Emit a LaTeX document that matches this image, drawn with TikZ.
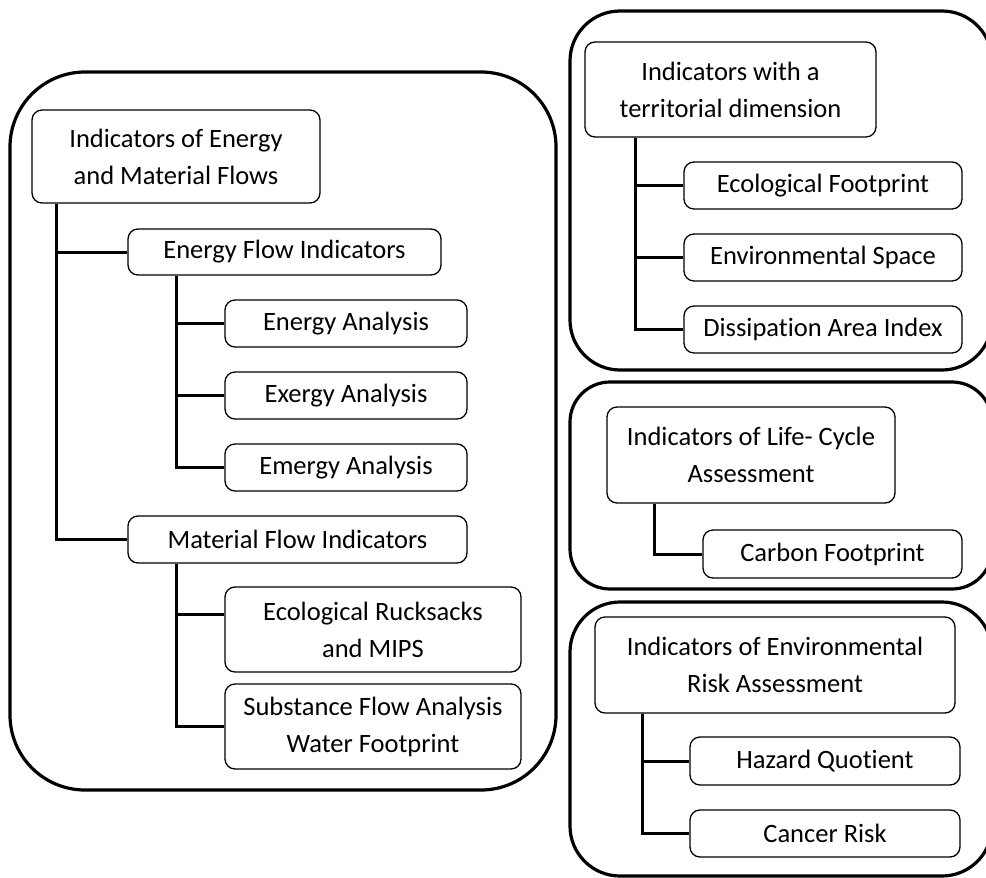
\documentclass[tikz,border=0pt]{standalone}
\usepackage{fontspec}
\setmainfont{Carlito}[Ligatures={NoCommon}]
\usetikzlibrary{calc}
\tikzset{
  group/.style={draw, line width=3.2pt, rounded corners=#1},
  ibox/.style={draw, line width=1.3pt, rounded corners=10pt, align=center,
    inner sep=0pt, font=\fontsize{26.5}{37}\selectfont},
  link/.style={line width=3pt},
}
\begin{document}
\begin{tikzpicture}[x=1pt,y=-1pt]
\clip (0,0) rectangle (986,878);
\fill[white] (0,0) rectangle (986,878);

% group frames (the right-hand ones run past the page edge)
\draw[group=75pt] (10,72) rectangle (556,790);
\draw[group=50pt] (570,11) rectangle (992,370);
\draw[group=40pt] (570,382) rectangle (992,589);
\draw[group=50pt] (570,602) rectangle (992,876);

% energy and material flows
\node[ibox, minimum width=288pt, minimum height=93pt] (emf) at (176,156.5) {Indicators of Energy\\and Material Flows};
\node[ibox, minimum width=313pt, minimum height=46pt] (efi) at (284.5,252) {Energy Flow Indicators};
\node[ibox, minimum width=242pt, minimum height=47pt] (ea) at (346,323.5) {Energy Analysis};
\node[ibox, minimum width=242pt, minimum height=47pt] (exa) at (346,395.5) {Exergy Analysis};
\node[ibox, minimum width=242pt, minimum height=47pt] (ema) at (346,467.5) {Emergy Analysis};
\node[ibox, minimum width=339pt, minimum height=47pt] (mfi) at (297.5,539.5) {Material Flow Indicators};
\node[ibox, minimum width=296pt, minimum height=85pt] (erm) at (373,629.5) {Ecological Rucksacks\\and MIPS};
\node[ibox, minimum width=296pt, minimum height=85pt] (sfa) at (373,726.5) {Substance Flow Analysis\\Water Footprint};

% territorial dimension
\node[ibox, minimum width=291pt, minimum height=95pt] (terr) at (730.5,89.5) {Indicators with a\\territorial dimension};
\node[ibox, minimum width=278pt, minimum height=47pt] (ef) at (823,185.5) {Ecological Footprint};
\node[ibox, minimum width=278pt, minimum height=47pt] (es) at (823,257.5) {Environmental Space};
\node[ibox, minimum width=278pt, minimum height=47pt] (dai) at (823,329.5) {Dissipation Area Index};

% life-cycle assessment
\node[ibox, minimum width=288pt, minimum height=96pt] (lca) at (751,455) {Indicators of Life- Cycle\\Assessment};
\node[ibox, minimum width=259pt, minimum height=48pt] (cf) at (832.5,554) {Carbon Footprint};

% environmental risk assessment
\node[ibox, minimum width=360pt, minimum height=96pt] (era) at (775,665) {Indicators of Environmental\\Risk Assessment};
\node[ibox, minimum width=270pt, minimum height=48pt] (hq) at (825,761) {Hazard Quotient};
\node[ibox, minimum width=270pt, minimum height=47pt] (cr) at (825,833.5) {Cancer Risk};

% tree connectors
\draw[link] ($(emf.south west)+(25,0)$) |- (efi.west);
\draw[link] ($(emf.south west)+(25,0)$) |- (mfi.west);
\draw[link] ($(efi.south west)+(49,0)$) |- (ea.west);
\draw[link] ($(efi.south west)+(49,0)$) |- (exa.west);
\draw[link] ($(efi.south west)+(49,0)$) |- (ema.west);
\draw[link] ($(mfi.south west)+(49,0)$) |- ($(erm.north west)!0.33!(erm.south west)$);
\draw[link] ($(mfi.south west)+(49,0)$) |- (sfa.west);

\draw[link] ($(terr.south west)+(51,0)$) |- (ef.west);
\draw[link] ($(terr.south west)+(51,0)$) |- (es.west);
\draw[link] ($(terr.south west)+(51,0)$) |- (dai.west);

\draw[link] ($(lca.south west)+(48,0)$) |- (cf.west);

\draw[link] ($(era.south west)+(48,0)$) |- (hq.west);
\draw[link] ($(era.south west)+(48,0)$) |- (cr.west);
\end{tikzpicture}
\end{document}
